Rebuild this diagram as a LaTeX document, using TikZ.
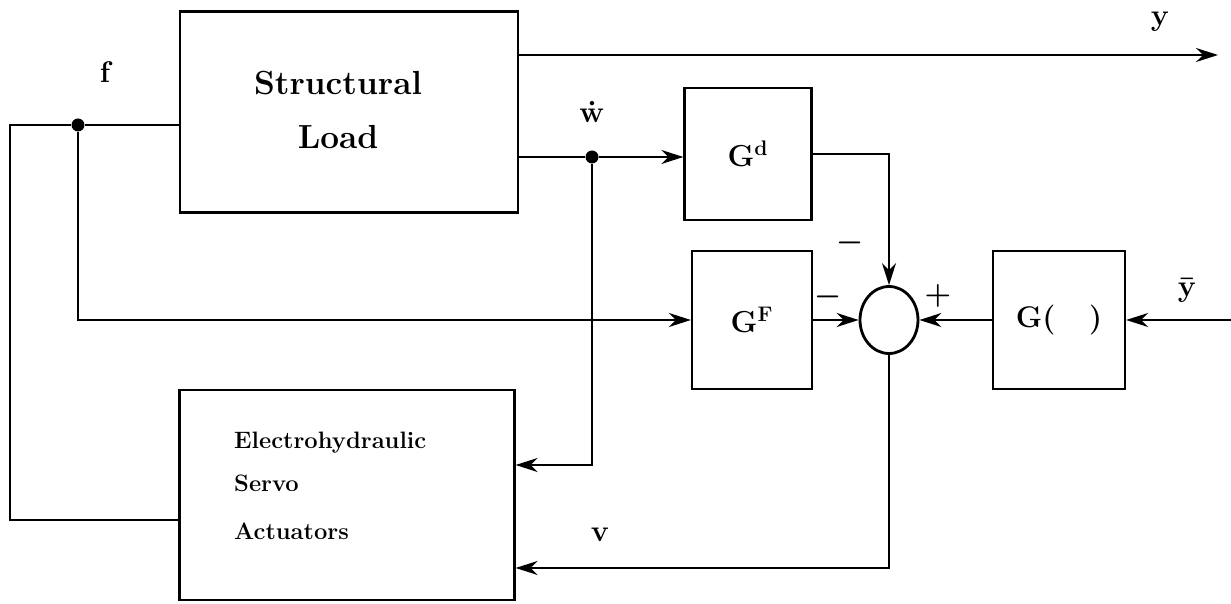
\documentclass[tikz,border=0pt]{standalone}
\usetikzlibrary{shapes.geometric,arrows.meta}
\begin{document}
\begin{tikzpicture}[x=0.02cm, y=-0.02cm,
  block/.style={draw, line width=1.3pt, inner sep=0pt,
                font=\bfseries\boldmath\fontsize{17}{20}\selectfont},
  sum/.style={draw, ellipse, line width=1.6pt, inner sep=0pt,
              minimum width=1.16cm, minimum height=1.34cm},
  conn/.style={-{Stealth[length=4.4mm, width=2.8mm]}, line width=1.3pt},
  wire/.style={line width=1.3pt},
  junct/.style={circle, fill, inner sep=0pt, minimum size=2.6mm},
  lbl/.style={font=\bfseries\boldmath\fontsize{17}{20}\selectfont}
]
  \useasboundingbox (0,0) rectangle (1231,604);

  % Blocs
  \node[block, minimum width=6.76cm, minimum height=4.02cm] (load) at (349,112) {};
  \node[lbl, align=center, font=\bfseries\fontsize{19}{22}\selectfont] (loadtxt) at (338,110)
    {Structural\\[3mm]Load};
  \node[block, minimum width=2.54cm, minimum height=2.64cm] (gd) at (748,154) {$\mathbf{G}^{\mathbf{d}}$};
  \node[block, minimum width=2.4cm, minimum height=2.76cm] (gf) at (752,320) {$\mathbf{G}^{\mathbf{F}}$};
  \node[block, minimum width=2.64cm, minimum height=2.76cm] (gc) at (1059,320) {G(\ \ \ )};
  \node[block, minimum width=6.7cm, minimum height=4.2cm] (eh) at (347,495) {};
  \node[lbl, align=left, anchor=north west, font=\bfseries\fontsize{13.5}{16}\selectfont] (ehtxt)
    at (228,426) {Electrohydraulic\\[3mm]Servo\\[4mm]Actuators};
  \node[sum] (sum) at (889,320) {};

  % Points de branchement
  \node[junct] (fj) at (78,125) {};
  \node[junct] (wj) at (592,157) {};
  \coordinate (yout) at (1218,55);
  \coordinate (fleft) at (10,125);
  \coordinate (ehf) at (180,520);
  \coordinate (yin) at (1231,320);

  % Connexions
  \draw[conn] (load.east |- yout) -- (yout);
  \draw[wire] (load.west |- fj) -- (fj) -- (fleft) |- (ehf);
  \draw[conn] (fj) |- (gf.west);
  \draw[wire] (load.east |- wj) -- (wj);
  \draw[conn] (wj) -- (gd.west |- wj);
  \draw[conn] (wj) |- ([yshift=0.6cm]eh.east);
  \draw[conn] (gd.east) -| (sum.north);
  \draw[conn] (gf.east) -- (sum.west);
  \draw[conn] (gc.west) -- (sum.east);
  \draw[conn] (yin) -- (gc.east);
  \draw[conn] (sum.south) |- ([yshift=-1.46cm]eh.east);

  % Etiquettes
  \node[lbl] (ylbl) at (1160,22) {$\mathbf{y}$};
  \node[lbl] (flbl) at (105,72) {f};
  \node[lbl] (wlbl) at (592,112) {$\dot{\mathbf{w}}$};
  \node[lbl] (vlbl) at (600,535) {$\mathbf{v}$};
  \node[lbl] (ybarlbl) at (1187,290) {$\bar{\mathbf{y}}$};
  \node[lbl] (m1) at (850,243) {$-$};
  \node[lbl] (m2) at (828,297) {$-$};
  \node[lbl] (p1) at (938,296) {$+$};
\end{tikzpicture}
\end{document}
